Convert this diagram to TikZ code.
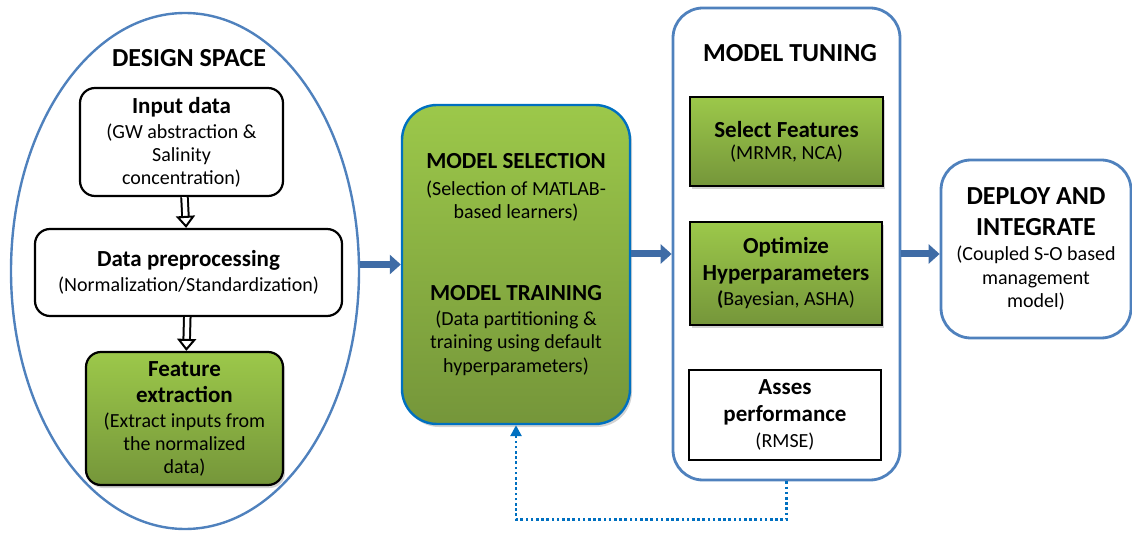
\documentclass[tikz,border=0pt]{standalone}
\usepackage{fontspec}
\setmainfont{Carlito}
\usetikzlibrary{shapes.geometric,arrows.meta,positioning,shadows}

\definecolor{leaf}{HTML}{9CC84A}
\definecolor{moss}{HTML}{75963A}
\definecolor{frameblue}{HTML}{4F81BD}
\definecolor{arrowblue}{HTML}{3F6CA6}
\definecolor{dotblue}{HTML}{0070C0}

\newcommand{\hd}[1]{{\fontsize{23}{26}\selectfont\bfseries #1}}
\newcommand{\bighd}[1]{{\fontsize{26}{31}\selectfont\bfseries #1}}

\begin{document}
\begin{tikzpicture}[x=1pt, y=-1pt, >=Latex,
    txt/.style = {font=\fontsize{20}{23}\selectfont, align=center, inner sep=0pt},
    block/.style = {txt, draw, line width=2.2pt, rounded corners=15pt},
    greenfill/.style = {top color=leaf, bottom color=moss, drop shadow={opacity=0.35, shadow xshift=2pt, shadow yshift=-3pt}},
    greenbox/.style = {txt, draw, line width=2.2pt, greenfill},
    frame/.style = {draw=frameblue, line width=2.8pt, rounded corners=30pt},
    stage/.style = {draw=arrowblue, line width=7pt, -{Triangle[length=11pt, width=19pt]}},
    hollow/.style = {double, double distance=4.5pt, line width=2pt, -{Triangle[open, length=12pt, width=19pt, line width=2pt]}},
    feedback/.style = {draw=dotblue, line width=2.6pt, dash pattern=on 2.6pt off 2.6pt, -{Triangle[length=11pt, width=11pt]}}]
    \useasboundingbox (0,0) rectangle (1132,534);

    \node [ellipse, draw=frameblue, line width=2.4pt, minimum width=348pt, minimum height=516pt] (design) at (185,271) {};
    \node [txt] (design_title) at (189,58) {\bighd{DESIGN SPACE}};
    \node [block, minimum width=203pt, minimum height=108pt] (input) at (181.5,142) {\hd{Input data}\\[2pt](GW abstraction \&\\Salinity\\concentration)};
    \node [block, minimum width=307pt, minimum height=87pt] (preproc) at (188.5,272.5) {\hd{Data preprocessing}\\[2pt](Normalization/Standardization)};
    \node [greenbox, rounded corners=15pt, minimum width=197pt, minimum height=133pt] (feat_ext) at (184.5,418.5) {\hd{Feature}\\[3pt]\hd{extraction}\\[2pt](Extract inputs from\\the normalized\\data)};

    \node [txt, draw=dotblue, line width=2.4pt, rounded corners=35pt, greenfill, minimum width=228pt, minimum height=319pt] (model) at (516,264.5)
        {\hd{MODEL SELECTION}\\[4pt](Selection of MATLAB-\\based learners)\\[59pt]\hd{MODEL TRAINING}\\[2pt](Data partitioning \&\\training using default\\[1pt]hyperparameters)};

    \node [frame, minimum width=227pt, minimum height=472pt] (tuning) at (786.5,244) {};
    \node [txt] (tuning_title) at (790,53) {\bighd{MODEL TUNING}};
    \node [greenbox, minimum width=193pt, minimum height=89pt] (select) at (786.5,141.5) {\hd{Select Features}\\[-1pt](MRMR, NCA)};
    \node [greenbox, minimum width=192pt, minimum height=103pt] (optim) at (786,273.5) {\hd{Optimize}\\[4pt]\hd{Hyperparameters}\\[2pt]\textbf{(}Bayesian, ASHA)};
    \node [block, rounded corners=0pt, minimum width=192pt, minimum height=90pt] (assess) at (785,415) {\hd{Asses}\\[4pt]\hd{performance}\\[3pt](RMSE)};

    \node [txt, frame, minimum width=190pt, minimum height=178pt] (deploy) at (1036,249) {\bighd{DEPLOY AND}\\[8pt]\bighd{INTEGRATE}\\[2pt](Coupled S-O based\\[1pt]management\\model)};

    \coordinate (row) at (0,254);
    \draw[hollow] (input) -- (preproc);
    \draw[hollow] (preproc) -- (feat_ext);
    \draw[stage] (model.west -| design.east) -- (model.west);
    \draw[stage] (model.east |- row) -- (tuning.west |- row);
    \draw[stage] (tuning.east |- row) -- (deploy.west |- row);
    \draw[feedback] (tuning.south) -- ++(0,38) -| (model.south);
\end{tikzpicture}
\end{document}
